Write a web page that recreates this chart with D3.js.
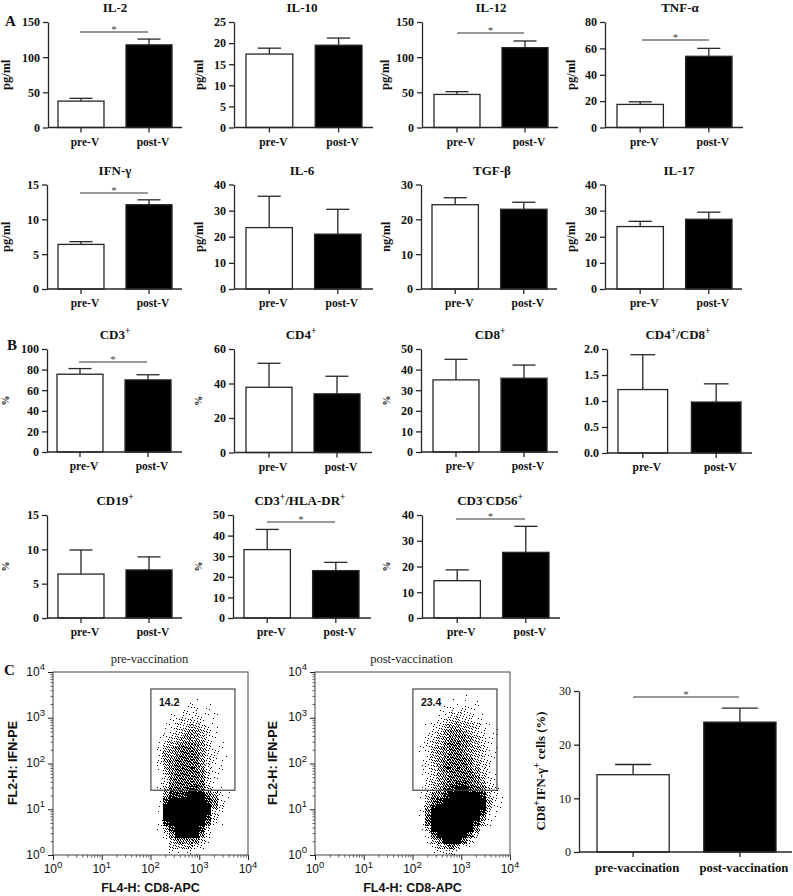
<!DOCTYPE html>
<html><head><meta charset="utf-8">
<style>html,body{margin:0;padding:0;background:#fff}svg{display:block}</style>
<script src="https://cdn.jsdelivr.net/npm/d3@7"></script></head>
<body><svg id="c" width="793" height="896"></svg>
<script>
// ---------- data ----------
const groups = ["pre-V", "post-V"];
const titles = ["IL-2","IL-10","IL-12","TNF-α","IFN-γ","IL-6","TGF-β","IL-17","CD3^+","CD4^+","CD8^+","CD4^+/CD8^+","CD19^+","CD3^+/HLA-DR^+","CD3^-CD56^+"];
const units  = ["pg/ml","pg/ml","pg/ml","pg/ml","pg/ml","pg/ml","ng/ml","pg/ml","%","%","%","","%","%","%"];
const yMax   = [150,25,150,80,15,40,30,40,100,60,50,2,15,50,40];
const yStep  = [50,5,50,20,5,10,10,10,20,20,10,0.5,5,10,10];
const preMean  = [37.5,17.4,47,17.5,6.4,23.5,24.2,23.9,75.5,37.8,35,1.22,6.4,33.2,14.5];
const preErr   = [41.5,18.8,51,19.5,6.8,35.5,26.2,25.9,81,51.7,45,1.89,9.9,43,18.7];
const postMean = [117.5,19.5,113.5,54,12.1,21,22.9,26.7,70,34,35.8,0.98,7,23,25.5];
const postErr  = [125.7,21.2,123,60,12.8,30.5,24.9,29.4,75,44.2,42.2,1.33,8.9,27,35.6];
const sigPanels = [0,2,3,4,8,13,14];

const cGroups = ["pre-vaccination","post-vaccination"];
const cMean = [14.4,24.2];
const cErr  = [16.3,26.8];
const cTicks = [0,10,20,30];

const flowTitles = ["pre-vaccination","post-vaccination"];
const flowGatePct = ["14.2","23.4"];
const gateX = [102,5400];
const gateY = [26,4250];
const decades = [1,10,100,1000,10000];
// Density: rows run from high to low FL2, columns
// from low to high FL4, on a 1/8-decade grid. 0 = empty, 9 = solid black.
const gridLogXStart = 1.875, gridLogYTop = 3.5, gridStep = 0.125;
const preDensity = [
"0000001010000000","0000010110100000","0000001121100000","0000112221110000",
"0000123332110000","0001233443210000","0001234554311000","0012345654211000",
"0013456665311000","0024567765321000","0025567775321100","0025677775321000",
"0014677775321000","0014677776321100","0013677776311000","0013677777311000",
"0014777887421000","0015888999752100","0018999999862100","0019999999963100",
"0019999999931000","0019999999831000","0018999999721000","0014899998310000",
"0002699996210000","0001466663100000","0000344532000000","0000211210000000"];
const postDensity = [
"0000000101000000","0000010110110000","0000011212210000","0000112332211000",
"0000123443321000","0001234554431100","0001235665432110","0012345666543110",
"0012346776543110","0012456776543210","0012456776543210","0012456777643210",
"0012357777643210","0012356777753210","0012356777764210","0012456788765210",
"0012457899876321","0013668999998421","0014789999999521","0015899999999421",
"0016999999998310","0017999999996210","0017999999984100","0014999999961000",
"0002799999731000","0001469997310000","0000245742100000","0000122310000000"];

// ---------- layout (pixels) ----------
// [axisLeft, axisRight, top, bottom, titleX, labelX, firstBarLeft, lastBarRight]
const layout = [
[48,182,22,127.5,115,8,58,172],[234,373,22,127.5,302,201,246,362],[422,558,22,127.5,491,387,434,548],[605,743,22,127.5,680,573,617,732],
[47,182,184.5,289,115,8,58,172],[234,373,184.5,289,302,201,246,361],[421,557,184.5,289,492,388,432,547],[605,742,184.5,289,679,573,617,732],
[47,182,349,452,115,7,57,171],[234,372,349,452.5,301,200,246,360],[421,558,349,452,490,388,433,547],[607,752,349,453,678,0,618,741],
[47,182,515,618,115,7,58,172],[233,371,515,618,300,200,244,359],[422,560,515,618,490,388,434,549]];
// [x1, x2, y] of significance bars, same order as sigPanels
const sigLines = [[80,148,32],[457,524,33],[642,709,40],[80,148,193],[79,147,362],[267,335,522],[456,525,519]];
const flowBox = [[53,248,672,855],[315,510,672,855]];
const flowYLabelX = [17,277];
const INK = "#262626", SERIF = "'Liberation Serif','Times New Roman',serif", SANS = "'Liberation Sans',Arial,sans-serif";

const svg = d3.select("#c");
const defs = svg.append("defs");

function rich(sel, str, supSize) {
  sel.text(null);
  const parts = str.split(/(\^.)/).filter(s => s.length);
  let after = false;
  parts.forEach(p => {
    const sup = p[0] === "^";
    const t = sel.append("tspan").text(sup ? p.slice(1) : p);
    if (sup) { t.attr("dy", -0.45 * supSize - 1).attr("font-size", supSize); after = true; }
    else if (after) { t.attr("dy", 0.45 * supSize + 1); after = false; }
  });
}

function styleAxis(g, sw) {
  g.selectAll(".domain,.tick line").attr("stroke", INK).attr("stroke-width", sw);
}

function barChart(box, cats, mean, err, ticks, opts) {
  const [x0, x1, top, bottom] = box, barL = box[6], barR = box[7];
  const x = d3.scaleBand().domain(cats).range([barL, barR]).paddingInner(0.324).paddingOuter(0);
  const y = d3.scaleLinear().domain([0, ticks[ticks.length - 1]]).range([bottom, top]);
  const g = svg.append("g");
  const rows = cats.map((c, i) => ({c, m: mean[i], e: err[i], i}));
  const cx = d => x(d.c) + x.bandwidth() / 2;
  const capW = x.bandwidth() * 0.5;
  g.selectAll("line.stem").data(rows).join("line").attr("class", "stem").attr("x1", cx).attr("x2", cx)
    .attr("y1", d => y(d.m)).attr("y2", d => y(d.e)).attr("stroke", INK).attr("stroke-width", 1.3);
  g.selectAll("line.cap").data(rows).join("line").attr("class", "cap")
    .attr("x1", d => cx(d) - capW / 2).attr("x2", d => cx(d) + capW / 2)
    .attr("y1", d => y(d.e)).attr("y2", d => y(d.e)).attr("stroke", INK).attr("stroke-width", 1.3);
  g.selectAll("rect").data(rows).join("rect")
    .attr("x", d => x(d.c)).attr("width", x.bandwidth())
    .attr("y", d => y(d.m)).attr("height", d => bottom - y(d.m))
    .attr("fill", d => d.i ? "#000" : "#fff").attr("stroke", INK).attr("stroke-width", 1.3);
  const ya = g.append("g").attr("transform", `translate(${x0},0)`)
    .call(d3.axisLeft(y).tickValues(ticks).tickSize(5).tickSizeOuter(0).tickPadding(3)
      .tickFormat(opts.fmt));
  styleAxis(ya, 1.3);
  ya.selectAll("text").attr("font-family", SERIF).attr("font-weight", opts.tickWeight).attr("font-size", 12).attr("fill", "#111");
  const xa = g.append("g").attr("transform", `translate(0,${bottom})`)
    .call(d3.axisBottom(x).tickSize(5).tickSizeOuter(0).tickPadding(0));
  xa.select(".domain").attr("d", `M${x0},0H${x1}`);
  styleAxis(xa, 1.3);
  xa.selectAll("text").attr("font-family", SERIF).attr("font-weight", "bold").attr("font-size", opts.catSize)
    .attr("fill", "#111").attr("dx", 4).attr("y", opts.catY).attr("dy", 0);
  return {x, y, g};
}

function sig(g, s) {
  g.append("line").attr("x1", s[0]).attr("x2", s[1]).attr("y1", s[2]).attr("y2", s[2])
    .attr("stroke", "#333").attr("stroke-width", 1.1);
  g.append("text").text("*").attr("x", (s[0] + s[1]) / 2).attr("y", s[2] + 0.5).attr("text-anchor", "middle")
    .attr("font-family", SERIF).attr("font-size", 11).attr("fill", "#444");
}

titles.forEach((t, i) => {
  const L = layout[i];
  const ticks = d3.range(0, yMax[i] + yStep[i] / 2, yStep[i]);
  const fmt = yStep[i] < 1 ? d3.format(".1f") : d3.format("d");
  const {g} = barChart(L, groups, [preMean[i], postMean[i]], [preErr[i], postErr[i]], ticks,
    {fmt, tickWeight: "bold", catSize: 11.5, catY: 18});
  g.append("text").attr("x", L[4]).attr("y", L[2] - 10).attr("text-anchor", "middle")
    .attr("font-family", SERIF).attr("font-weight", "bold").attr("font-size", 13).attr("fill", "#111")
    .call(rich, t, 9.5);
  if (units[i]) g.append("text").text(units[i])
    .attr("transform", `translate(${L[5] + 2},${(L[2] + L[3]) / 2}) rotate(-90)`).attr("text-anchor", "middle")
    .attr("font-family", SERIF).attr("font-weight", "bold").attr("font-size", units[i] === "%" ? 10 : 12.5).attr("fill", "#111");
  const k = sigPanels.indexOf(i);
  if (k >= 0) sig(g, sigLines[k]);
});

// Panel letters
[["A",5,26],["B",7,350],["C",4,675]].forEach(d => svg.append("text").text(d[0]).attr("x", d[1]).attr("y", d[2])
  .attr("font-family", SERIF).attr("font-weight", "bold").attr("font-size", 15).attr("fill", "#111"));

// Stipple tiles: one per density level (ordered dither, only a rendering of the grid above)
const coverage = [0,0.03,0.09,0.17,0.27,0.38,0.5,0.62,0.8,1];
const TILE = 64;
const dither = (a, b) => { const f = v => v - Math.floor(v); return f(52.9829189 * f(0.06711056 * a + 0.00583715 * b)); };
coverage.forEach((cv, lvl) => {
  if (!lvl) return;
  let path = "";
  for (let a = 0; a < TILE; a++) for (let b = 0; b < TILE; b++) {
    if (dither(a, b) < cv) path += `M${a} ${b}h1v1h-1z`;
  }
  const p = defs.append("pattern").attr("id", "st" + lvl).attr("patternUnits", "userSpaceOnUse")
    .attr("width", TILE).attr("height", TILE);
  p.append("path").attr("d", path).attr("fill", "#000").attr("shape-rendering", "crispEdges");
});

function flow(box, density, title, pct, gi) {
  const [x0, x1, y0, y1] = box;
  const x = d3.scaleLog().domain([1, 1e4]).range([x0, x1]);
  const y = d3.scaleLog().domain([1, 1e4]).range([y1, y0]);
  const g = svg.append("g");
  const cells = [];
  density.forEach((row, r) => row.split("").forEach((v, c) => {
    if (+v) cells.push({v: +v,
      xa: 10 ** (gridLogXStart + c * gridStep), xb: 10 ** (gridLogXStart + (c + 1) * gridStep),
      yb: 10 ** (gridLogYTop - r * gridStep), ya: 10 ** (gridLogYTop - (r + 1) * gridStep)});
  }));
  g.selectAll("rect.cell").data(cells).join("rect").attr("class", "cell")
    .attr("x", d => Math.round(x(d.xa))).attr("width", d => Math.round(x(d.xb)) - Math.round(x(d.xa)))
    .attr("y", d => Math.round(y(d.yb))).attr("height", d => Math.round(y(d.ya)) - Math.round(y(d.yb)))
    .attr("fill", d => `url(#st${d.v})`).attr("shape-rendering", "crispEdges");
  g.append("rect").attr("x", x(gateX[0])).attr("width", x(gateX[1]) - x(gateX[0]))
    .attr("y", y(gateY[1])).attr("height", y(gateY[0]) - y(gateY[1]))
    .attr("fill", "none").attr("stroke", "#444").attr("stroke-width", 1.2);
  g.append("rect").attr("x", x0).attr("y", y0).attr("width", x1 - x0).attr("height", y1 - y0)
    .attr("fill", "none").attr("stroke", "#444").attr("stroke-width", 1);
  const minors = decades.slice(0, 4).flatMap(d => d3.range(2, 10).map(m => m * d));
  const mk = (axis, scale, size, vals) => axis(scale).tickValues(vals).tickSize(size).tickSizeOuter(0).tickFormat("");
  [[d3.axisBottom, x, `translate(0,${y1})`], [d3.axisLeft, y, `translate(${x0},0)`]].forEach(([ax, s, tr]) => {
    const m = g.append("g").attr("transform", tr).call(mk(ax, s, 2.5, minors));
    m.select(".domain").remove();
    m.selectAll("line").attr("stroke", "#333").attr("stroke-width", 0.8);
    const M = g.append("g").attr("transform", tr).call(mk(ax, s, 5, decades));
    M.select(".domain").remove();
    M.selectAll("line").attr("stroke", "#222").attr("stroke-width", 1);
    M.selectAll("text").remove();
  });
  const lab = (sel) => sel.attr("font-family", SANS).attr("font-size", 12).attr("fill", "#111");
  decades.forEach((d, i) => {
    g.append("text").attr("x", x(d)).attr("y", y1 + 18).attr("text-anchor", "middle").call(lab).call(rich, "10^" + i, 9.5);
    g.append("text").attr("x", x0 - 8).attr("y", y(d) + 3.5).attr("text-anchor", "end").call(lab).call(rich, "10^" + i, 9.5);
  });
  const bold = (sel) => sel.attr("font-family", SANS).attr("font-weight", "bold").attr("font-size", 12.5).attr("fill", "#111");
  g.append("text").text("FL4-H: CD8-APC").attr("x", (x0 + x1) / 2).attr("y", 892).attr("text-anchor", "middle").call(bold);
  g.append("text").text("FL2-H: IFN-PE").attr("transform", `translate(${flowYLabelX[gi]},763) rotate(-90)`).attr("text-anchor", "middle").call(bold);
  g.append("text").text(title).attr("x", (x0 + x1) / 2 - 1).attr("y", 663).attr("text-anchor", "middle")
    .attr("font-family", SERIF).attr("font-size", 12.5).attr("fill", "#222");
  g.append("text").text(pct).attr("x", x(gateX[0]) + 8).attr("y", 706)
    .attr("font-family", SANS).attr("font-weight", "bold").attr("font-size", 10.5).attr("fill", "#111");
}
flow(flowBox[0], preDensity, flowTitles[0], flowGatePct[0], 0);
flow(flowBox[1], postDensity, flowTitles[1], flowGatePct[1], 1);

// Panel C bars
const C = barChart([579,792,691,852,0,0,597,776], cGroups, cMean, cErr, cTicks,
  {fmt: d3.format("d"), tickWeight: "normal", catSize: 12.7, catY: 20});
sig(C.g, [633,739,697]);
C.g.append("text").attr("transform", "translate(545,771) rotate(-90)").attr("text-anchor", "middle")
  .attr("font-family", SERIF).attr("font-weight", "bold").attr("font-size", 12.8).attr("fill", "#111")
  .call(rich, "CD8^+IFN-γ^+ cells (%)", 9.5);
</script></body></html>
